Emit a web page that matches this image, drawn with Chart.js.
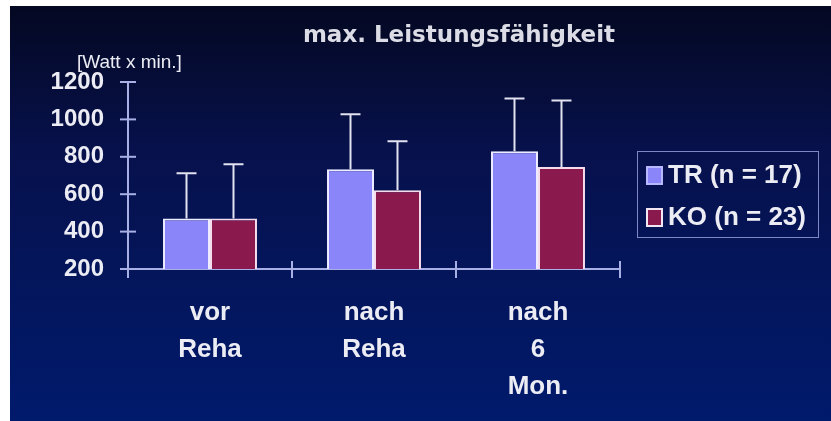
<!DOCTYPE html>
<html>
<head>
<meta charset="utf-8">
<script src="https://cdn.jsdelivr.net/npm/chart.js@4/dist/chart.umd.min.js"></script>
<style>
  html, body { margin: 0; padding: 0; background: #ffffff; }
  #wrap { position: absolute; left: 10px; top: 6px; width: 821px; height: 415px; }
</style>
</head>
<body>
<div id="wrap"><canvas id="c"></canvas></div>
<script>
const categories = [['vor', 'Reha'], ['nach', 'Reha'], ['nach', '6', 'Mon.']];
const seriesNames = ['TR (n = 17)', 'KO (n = 23)'];
const trValues = [470, 733, 830];
const koValues = [470, 621, 745];
const trSD = [242, 294, 282];
const koSD = [290, 262, 356];
const yTicks = [200, 400, 600, 800, 1000, 1200];
const titleText = 'max. Leistungsfähigkeit';
const unitText = '[Watt x min.]';

const textColor = '#ececf4';
const axisColor = '#a8b0e6';
const trColor = '#8a86fa';
const koColor = '#8a1a4e';

const bgPlugin = {
  id: 'bg',
  beforeDraw(chart) {
    const { ctx, width, height } = chart;
    const g = ctx.createLinearGradient(0, 0, 0, height);
    g.addColorStop(0, '#040822');
    g.addColorStop(0.35, '#07114c');
    g.addColorStop(1, '#001a6c');
    ctx.save();
    ctx.fillStyle = g;
    ctx.fillRect(0, 0, width, height);
    ctx.restore();
  }
};

const decoPlugin = {
  id: 'deco',
  afterDatasetsDraw(chart) {
    const { ctx } = chart;
    const y = chart.scales.y;
    const sds = [trSD, koSD];
    ctx.save();
    ctx.strokeStyle = '#e2e2f0';
    ctx.lineWidth = 2;
    chart.data.datasets.forEach((ds, di) => {
      const meta = chart.getDatasetMeta(di);
      meta.data.forEach((bar, i) => {
        const top = y.getPixelForValue(ds.data[i]);
        const end = y.getPixelForValue(ds.data[i] + sds[di][i]);
        ctx.beginPath();
        ctx.moveTo(bar.x, top);
        ctx.lineTo(bar.x, end);
        ctx.moveTo(bar.x - 10, end);
        ctx.lineTo(bar.x + 10, end);
        ctx.stroke();
      });
    });
    ctx.restore();
  },
  afterDraw(chart) {
    const { ctx, chartArea } = chart;
    const x = chart.scales.x;
    const y = chart.scales.y;
    ctx.save();
    ctx.strokeStyle = axisColor;
    ctx.lineWidth = 2;
    yTicks.forEach(v => {
      const py = y.getPixelForValue(v);
      ctx.beginPath();
      ctx.moveTo(chartArea.left - 8, py);
      ctx.lineTo(chartArea.left + 8, py);
      ctx.stroke();
    });
    for (let i = 0; i <= categories.length; i++) {
      const px = x.getPixelForValue(i - 0.5);
      ctx.beginPath();
      ctx.moveTo(px, chartArea.bottom - 8);
      ctx.lineTo(px, chartArea.bottom + 9);
      ctx.stroke();
    }
    ctx.fillStyle = '#dcdce6';
    ctx.font = 'bold 23px "DejaVu Sans"';
    ctx.textAlign = 'center';
    ctx.textBaseline = 'middle';
    ctx.fillText(titleText, 449, 30);
    ctx.fillStyle = textColor;
    ctx.font = '19px "Liberation Sans"';
    ctx.textAlign = 'left';
    ctx.fillText(unitText, 67, 57);
    const lx = 627, ly = 145, lw = 181, lh = 86;
    ctx.strokeStyle = '#7f88c4';
    ctx.lineWidth = 1;
    ctx.strokeRect(lx + 0.5, ly + 0.5, lw, lh);
    const fills = [trColor, koColor];
    const borders = ['#b8b8ff', '#f2e6f2'];
    const rows = [169, 211];
    ctx.font = 'bold 26px "Liberation Sans"';
    ctx.textBaseline = 'middle';
    seriesNames.forEach((name, i) => {
      ctx.fillStyle = fills[i];
      ctx.fillRect(636, rows[i] - 9, 17, 19);
      ctx.strokeStyle = borders[i];
      ctx.lineWidth = 2;
      ctx.strokeRect(637, rows[i] - 8, 15, 17);
      ctx.fillStyle = textColor;
      ctx.fillText(name, 658, rows[i] + 1);
    });
    ctx.restore();
  }
};

new Chart(document.getElementById('c'), {
  type: 'bar',
  data: {
    labels: categories,
    datasets: [
      { label: seriesNames[0], data: trValues, backgroundColor: trColor, borderColor: '#ecebff', borderWidth: 2,
        categoryPercentage: 0.573, barPercentage: 1.0 },
      { label: seriesNames[1], data: koValues, backgroundColor: koColor, borderColor: '#f4dcec', borderWidth: 2,
        categoryPercentage: 0.573, barPercentage: 1.0 }
    ]
  },
  options: {
    responsive: true,
    maintainAspectRatio: false,
    animation: false,
    devicePixelRatio: 1,
    layout: { padding: { left: 0, top: 76, right: 211, bottom: 0 } },
    plugins: {
      legend: { display: false },
      title: { display: false },
      tooltip: { enabled: false }
    },
    scales: {
      x: {
        grid: { display: false, drawTicks: false },
        border: { display: true, color: axisColor, width: 2 },
        ticks: {
          color: textColor,
          padding: 25,
          font: { family: '"Liberation Sans"', size: 26, weight: 'bold', lineHeight: 37 / 26 },
          maxRotation: 0,
          autoSkip: false
        },
        afterFit(scale) { scale.height = 152; }
      },
      y: {
        min: 200,
        max: 1200,
        afterBuildTicks(scale) { scale.ticks = yTicks.map(v => ({ value: v })); },
        grid: { display: false, drawTicks: false },
        border: { display: true, color: axisColor, width: 2 },
        ticks: {
          color: textColor,
          padding: 24,
          font: { family: '"Liberation Sans"', size: 24, weight: 'bold' },
          callback: (v) => String(v)
        },
        afterFit(scale) { scale.width = 118; }
      }
    }
  },
  plugins: [bgPlugin, decoPlugin]
});
</script>
</body>
</html>
